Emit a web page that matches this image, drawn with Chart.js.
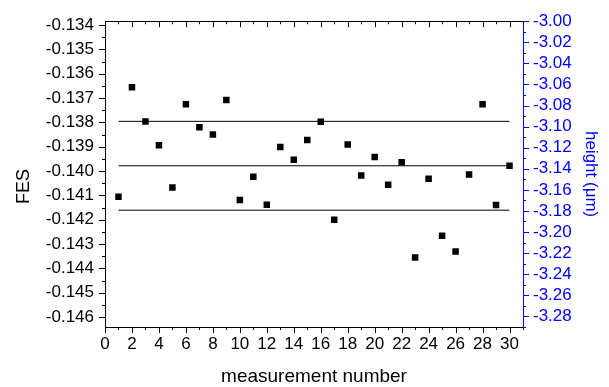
<!DOCTYPE html>
<html>
<head>
<meta charset="utf-8">
<script src="https://cdn.jsdelivr.net/npm/chart.js@4/dist/chart.umd.min.js"></script>
<style>
  html, body { margin: 0; padding: 0; background: #fff; }
  #wrap { width: 609px; height: 387px; }
</style>
</head>
<body>
<div id="wrap"><canvas id="c" width="609" height="387"></canvas></div>
<script>
// ---- data ----
const measurementNumbers = [1,2,3,4,5,6,7,8,9,10,11,12,13,14,15,16,17,18,19,20,21,22,23,24,25,26,27,28,29,30];
const fesValues = [
  -0.14106, -0.13656, -0.13796, -0.13894, -0.14068, -0.13725, -0.13820, -0.13850, -0.13708, -0.14119,
  -0.14023, -0.14138, -0.13901, -0.13954, -0.13872, -0.13797, -0.14200, -0.13891, -0.14018, -0.13942,
  -0.14056, -0.13964, -0.14355, -0.14032, -0.14266, -0.14331, -0.14014, -0.13725, -0.14140, -0.13978
];
const meanLevel = -0.139783;
const upperLevel = -0.137957;
const lowerLevel = -0.141609;
const lineSpan = [1, 30];
const fesRange = [-0.14641, -0.13384];
const heightRange = [-3.2901, -3.0000];
const xRange = [0, 31];

const FONT = "'Liberation Sans', Arial, sans-serif";
const BLUE = '#0000ff';

const points = measurementNumbers.map((n, i) => ({ x: n, y: fesValues[i] }));
const levelLine = (v) => lineSpan.map(x => ({ x: x, y: v }));

const axisTicks = {
  id: 'axisTicks',
  afterDraw(chart) {
    const { ctx, chartArea: a, scales } = chart;
    const x = scales.x, y = scales.y, y2 = scales.y2;
    ctx.save();
    ctx.lineWidth = 1;
    ctx.strokeStyle = '#000';
    // top border
    ctx.beginPath();
    ctx.moveTo(a.left, Math.round(a.top) + 0.5);
    ctx.lineTo(a.right, Math.round(a.top) + 0.5);
    ctx.stroke();
    // x ticks: bottom outward, top inward
    ctx.beginPath();
    for (let v = xRange[0]; v <= xRange[1]; v++) {
      const px = Math.round(x.getPixelForValue(v)) + 0.5;
      const len = v % 2 === 0 ? 6 : 3;
      ctx.moveTo(px, a.bottom); ctx.lineTo(px, a.bottom + len);
      ctx.moveTo(px, a.top); ctx.lineTo(px, a.top + len);
    }
    ctx.stroke();
    // left y ticks (outward)
    ctx.beginPath();
    for (let k = Math.ceil(fesRange[0] * 2000); k <= Math.floor(fesRange[1] * 2000); k++) {
      const py = Math.round(y.getPixelForValue(k / 2000)) + 0.5;
      const len = k % 2 === 0 ? 6 : 3;
      ctx.moveTo(a.left, py); ctx.lineTo(a.left - len, py);
    }
    ctx.stroke();
    // right y ticks (outward, blue)
    ctx.strokeStyle = BLUE;
    ctx.beginPath();
    for (let k = Math.ceil(heightRange[0] * 100 - 1e-6); k <= Math.floor(heightRange[1] * 100 + 1e-6); k++) {
      const py = Math.round(y2.getPixelForValue(k / 100)) + 0.5;
      const len = k % 2 === 0 ? 6 : 3;
      ctx.moveTo(a.right, py); ctx.lineTo(a.right + len, py);
    }
    ctx.stroke();
    ctx.restore();
  }
};

new Chart(document.getElementById('c'), {
  type: 'scatter',
  data: {
    datasets: [
      {
        label: 'FES',
        data: points,
        pointStyle: 'rect',
        pointRadius: 4.6,
        pointBorderWidth: 0,
        backgroundColor: '#000',
        borderColor: '#000',
        showLine: false,
        yAxisID: 'y'
      },
      { label: 'upper', data: levelLine(upperLevel), showLine: true, borderColor: '#000', borderWidth: 1, pointRadius: 0, yAxisID: 'y' },
      { label: 'mean', data: levelLine(meanLevel), showLine: true, borderColor: '#000', borderWidth: 1, pointRadius: 0, yAxisID: 'y' },
      { label: 'lower', data: levelLine(lowerLevel), showLine: true, borderColor: '#000', borderWidth: 1, pointRadius: 0, yAxisID: 'y' }
    ]
  },
  options: {
    responsive: false,
    animation: false,
    events: [],
    layout: { padding: { top: 19, left: 0, right: 0, bottom: 0 } },
    plugins: { legend: { display: false }, tooltip: { enabled: false } },
    scales: {
      x: {
        type: 'linear',
        position: 'bottom',
        min: xRange[0], max: xRange[1],
        afterFit(s) { s.height = 60; },
        grid: { display: true, drawOnChartArea: false, drawTicks: false },
        border: { display: true, color: '#000', width: 1 },
        ticks: {
          stepSize: 2, includeBounds: false, padding: 7, autoSkip: false,
          color: '#000', font: { family: FONT, size: 17 }, maxRotation: 0,
          callback: (v) => String(v)
        },
        title: { display: true, text: 'measurement number', color: '#000', font: { family: FONT, size: 19, lineHeight: 1.1 }, padding: { top: 0, bottom: 0 } }
      },
      y: {
        type: 'linear',
        position: 'left',
        min: fesRange[0], max: fesRange[1],
        afterFit(s) { s.width = 105; },
        grid: { display: true, drawOnChartArea: false, drawTicks: false },
        border: { display: true, color: '#000', width: 1 },
        ticks: {
          stepSize: 0.001, includeBounds: false, padding: 11, autoSkip: false,
          color: '#000', font: { family: FONT, size: 17 },
          callback: (v) => Number(v).toFixed(3)
        },
        title: { display: true, text: 'FES     ', color: '#000', font: { family: FONT, size: 18, lineHeight: 1.2 }, padding: { top: 13, bottom: 0 } }
      },
      y2: {
        type: 'linear',
        position: 'right',
        min: heightRange[0], max: heightRange[1],
        afterFit(s) { s.width = 86; },
        grid: { display: true, drawOnChartArea: false, drawTicks: false },
        border: { display: true, color: BLUE, width: 1 },
        ticks: {
          stepSize: 0.02, includeBounds: false, padding: 10, autoSkip: false,
          color: BLUE, font: { family: FONT, size: 17 },
          callback: (v) => Number(v).toFixed(2)
        },
        title: { display: true, text: 'height (\u03bcm)', color: BLUE, font: { family: FONT, size: 17, lineHeight: 1.2 }, padding: { top: 8, bottom: 0 } }
      }
    }
  },
  plugins: [axisTicks]
});
</script>
</body>
</html>
